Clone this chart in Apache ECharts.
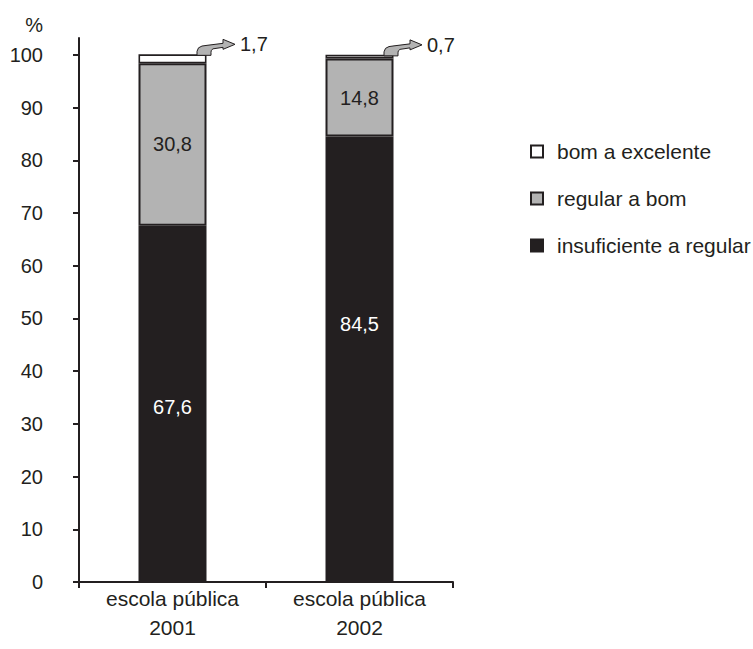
<!DOCTYPE html>
<html><head><meta charset="utf-8">
<script src="https://cdn.jsdelivr.net/npm/echarts@6/dist/echarts.min.js"></script>
<style>html,body{margin:0;padding:0;background:#fff}#c{width:753px;height:649px}</style>
</head><body><div id="c"></div>
<script>
const categories = ['escola pública\n2001', 'escola pública\n2002'];
const seriesNames = ['insuficiente a regular', 'regular a bom', 'bom a excelente'];
const insuficiente = [67.6, 84.5];
const regular = [30.8, 14.8];
const bom = [1.7, 0.7];
const yTicks = [0, 10, 20, 30, 40, 50, 60, 70, 80, 90, 100];
const darkLabelOffsets = [[0, 3], [0, -35]];

const INK = '#231f20', GRAY = '#b3b3b3';
const FONT = 'Liberation Sans';
const BAR_W = 68;
const fmt = v => String(v).replace('.', ',');

const chart = echarts.init(document.getElementById('c'), null, { renderer: 'svg' });
chart.setOption({
  animation: false,
  backgroundColor: '#fff',
  textStyle: { fontFamily: FONT, color: INK },
  grid: { left: 79, right: 300, top: 38, bottom: 67, containLabel: false, outerBoundsMode: 'none' },
  legend: {
    orient: 'vertical', left: 525, top: 136, itemGap: 26,
    itemWidth: 12, itemHeight: 12, icon: 'rect',
    itemStyle: { borderColor: INK, borderWidth: 2 },
    textStyle: { fontFamily: FONT, fontSize: 21, color: INK, padding: [0, 0, 0, 9] },
    data: [seriesNames[2], seriesNames[1], seriesNames[0]]
  },
  xAxis: {
    type: 'category', data: categories,
    axisLine: { lineStyle: { color: INK, width: 2 } },
    axisTick: { show: true, length: 6, lineStyle: { color: INK, width: 2 } },
    axisLabel: { color: INK, fontFamily: FONT, fontSize: 21, lineHeight: 29, margin: 2 }
  },
  yAxis: {
    type: 'value', min: 0, max: 103.2,
    axisLine: { show: true, lineStyle: { color: INK, width: 2 } },
    axisTick: { show: true, length: 6, customValues: yTicks, lineStyle: { color: INK, width: 2 } },
    axisLabel: { color: INK, fontFamily: FONT, fontSize: 20, margin: 36, customValues: yTicks },
    splitLine: { show: false }
  },
  series: [
    {
      name: seriesNames[0], type: 'bar', stack: 't', barWidth: BAR_W,
      data: insuficiente.map((v, i) => ({ value: v, label: { offset: darkLabelOffsets[i] } })),
      itemStyle: { color: INK, borderColor: INK, borderWidth: 2 },
      label: { show: true, position: 'inside', color: '#fff', fontFamily: FONT, fontSize: 20, formatter: p => fmt(p.value) }
    },
    {
      name: seriesNames[1], type: 'bar', stack: 't', barWidth: BAR_W,
      data: regular,
      itemStyle: { color: GRAY, borderColor: INK, borderWidth: 2 },
      label: { show: true, position: 'inside', color: INK, fontFamily: FONT, fontSize: 20, formatter: p => fmt(p.value) }
    },
    {
      name: seriesNames[2], type: 'bar', stack: 't', barWidth: BAR_W,
      data: bom,
      itemStyle: { color: '#fff', borderColor: INK, borderWidth: 1.6 }
    }
  ]
});

// curved callout arrow outline, relative to the bar's top-right corner
const arrowPts = [[-10, 1], [-10, -3], [-8.5, -6.5], [-5, -8.3], [0, -9], [16, -11], [16, -15], [28, -10],
  [16, -5], [16, -7], [6, -5.5], [4.3, -4], [4, -2], [4, 1]];
const graphics = [{
  type: 'text', x: 43, y: 25, z: 100,
  style: { text: '%', font: '20px "' + FONT + '"', fill: INK, align: 'right', verticalAlign: 'middle' }
}];
categories.forEach((c, i) => {
  const total = insuficiente[i] + regular[i] + bom[i];
  const p = chart.convertToPixel({ gridIndex: 0 }, [i, total]);
  const bx = p[0] + BAR_W / 2 + 0.5, by = p[1];
  graphics.push({
    type: 'polygon', x: bx, y: by, z: 100,
    shape: { points: arrowPts },
    style: { fill: GRAY, stroke: INK, lineWidth: 1 }
  });
  graphics.push({
    type: 'text', x: bx + 33, y: by - 10, z: 100,
    style: { text: fmt(bom[i]), font: '20px "' + FONT + '"', fill: INK, verticalAlign: 'middle' }
  });
});
chart.setOption({ graphic: graphics });
</script></body></html>
